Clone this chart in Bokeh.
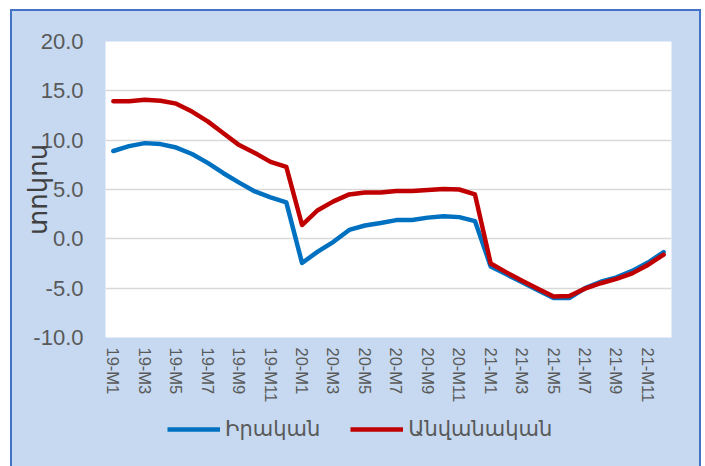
from bokeh.plotting import figure
from bokeh.layouts import column
from bokeh.models import (FactorRange, Range1d, FixedTicker, NumeralTickFormatter, Legend, LegendItem,
                          ColumnDataSource, CustomJSTickFormatter)
from bokeh.embed import file_html
from bokeh.resources import INLINE

months = ["19-M1", "19-M2", "19-M3", "19-M4", "19-M5", "19-M6", "19-M7", "19-M8", "19-M9", "19-M10", "19-M11", "19-M12",
          "20-M1", "20-M2", "20-M3", "20-M4", "20-M5", "20-M6", "20-M7", "20-M8", "20-M9", "20-M10", "20-M11", "20-M12",
          "21-M1", "21-M2", "21-M3", "21-M4", "21-M5", "21-M6", "21-M7", "21-M8", "21-M9", "21-M10", "21-M11", "21-M12"]

real = [8.9, 9.4, 9.7, 9.6, 9.25, 8.6, 7.7, 6.65, 5.7, 4.8, 4.2, 3.7,
        -2.45, -1.3, -0.3, 0.9, 1.35, 1.6, 1.9, 1.9, 2.15, 2.3, 2.2, 1.8,
        -2.8, -3.6, -4.4, -5.2, -6.0, -6.0, -5.0, -4.35, -3.9, -3.25, -2.4, -1.35]
nominal = [13.95, 13.95, 14.1, 14.0, 13.7, 12.9, 11.9, 10.7, 9.5, 8.7, 7.8, 7.3,
           1.4, 2.9, 3.8, 4.5, 4.7, 4.7, 4.85, 4.85, 4.95, 5.05, 5.0, 4.5,
           -2.5, -3.4, -4.25, -5.05, -5.85, -5.8, -5.05, -4.5, -4.05, -3.5, -2.65, -1.6]

y_ticks = [-10, -5, 0, 5, 10, 15, 20]
grid_ticks = [-5, 0, 5, 10, 15]
series_names = ["Իրական", "Անվանական"]
y_label = "տոկոս"

BG = "#C6D9F1"
EDGE = "#4472C4"
TXT = "#595959"
BLUE = "#0070C0"
RED = "#C00000"

src = ColumnDataSource(dict(m=months, real=real, nominal=nominal))

# ---- main chart ----
p = figure(x_range=FactorRange(*months), y_range=Range1d(-10, 20),
           width=701, height=410, output_backend="svg", toolbar_location=None,
           min_border_left=105, min_border_right=30, min_border_top=41, min_border_bottom=73,
           background_fill_color="white", border_fill_color=None)
p.styles = {"background-color": BG,
            "box-shadow": f"inset 10px 9px 0 0 #FFFFFF, inset 12px 11px 0 0 {EDGE}, inset -2px 0 0 0 {EDGE}"}
p.outline_line_color = None

p.line("m", "real", source=src, line_color=BLUE, line_width=4.5, line_join="round", line_cap="round")
p.line("m", "nominal", source=src, line_color=RED, line_width=4.5, line_join="round", line_cap="round")

p.xgrid.grid_line_color = None
p.ygrid.ticker = FixedTicker(ticks=grid_ticks)
p.ygrid.grid_line_color = "#D9D9D9"
p.ygrid.grid_line_width = 1.5

yax = p.yaxis[0]
yax.ticker = FixedTicker(ticks=y_ticks)
yax.formatter = NumeralTickFormatter(format="0.0")
yax.axis_line_color = None
yax.major_tick_line_color = None
yax.minor_tick_line_color = None
yax.major_tick_out = 0
yax.major_label_standoff = 22
yax.major_label_text_font = "Liberation Sans"
yax.major_label_text_font_size = "22px"
yax.major_label_text_color = TXT
yax.axis_label = y_label
yax.axis_label_text_font = "DejaVu Sans"
yax.axis_label_text_font_size = "26px"
yax.axis_label_text_font_style = "normal"
yax.axis_label_text_color = "#404040"
yax.axis_label_standoff = -23

xax = p.xaxis[0]
xax.axis_line_color = None
xax.major_tick_line_color = None
xax.minor_tick_line_color = None
xax.major_tick_out = 0
xax.major_label_standoff = 10
xax.major_label_orientation = "vertical"
xax.major_label_text_font = "Liberation Sans"
xax.major_label_text_font_size = "16.5px"
xax.major_label_text_color = TXT
xax.formatter = CustomJSTickFormatter(code="return (index % 2 == 0) ? tick : '';")

# ---- legend strip ----
q = figure(x_range=Range1d(0, 1), y_range=Range1d(0, 1), width=701, height=56,
           output_backend="svg", toolbar_location=None, x_axis_type=None, y_axis_type=None,
           min_border=0, background_fill_color=None, border_fill_color=None)
q.styles = {"background-color": BG,
            "box-shadow": f"inset 10px 0 0 0 #FFFFFF, inset 12px 0 0 0 {EDGE}, inset -2px 0 0 0 {EDGE}"}
q.outline_line_color = None
q.grid.visible = False
hidden = ColumnDataSource(dict(x=[-2, -1], y=[-2, -1]))  # outside the strip's ranges: legend keys only
l1 = q.line("x", "y", source=hidden, line_color=BLUE, line_width=4.5)
l2 = q.line("x", "y", source=hidden, line_color=RED, line_width=4.5)

legend = Legend(items=[LegendItem(label=series_names[0], renderers=[l1]),
                       LegendItem(label=series_names[1], renderers=[l2])],
                orientation="horizontal", location=(62, 25),
                padding=0, margin=0, spacing=30, glyph_width=53, glyph_height=20,
                label_standoff=5, label_height=20,
                background_fill_alpha=0, border_line_color=None,
                label_text_font="DejaVu Sans", label_text_font_size="21px", label_text_color=TXT)
q.add_layout(legend)

layout = column(p, q, spacing=0)
open("out.html", "w").write(file_html(layout, INLINE))
